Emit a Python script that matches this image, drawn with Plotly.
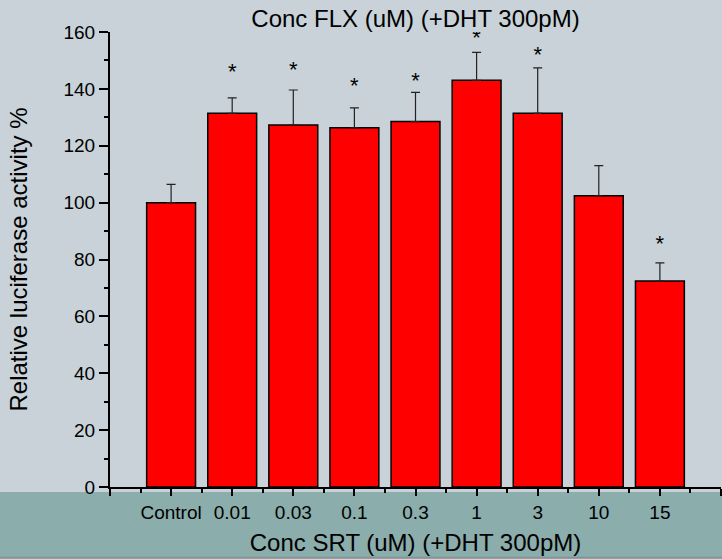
import plotly.graph_objects as go

categories = ["Control", "0.01", "0.03", "0.1", "0.3", "1", "3", "10", "15"]
activity = [100.0, 131.4, 127.3, 126.3, 128.5, 143.0, 131.4, 102.4, 72.4]
error_up = [6.4, 5.4, 12.3, 7.0, 10.3, 9.8, 16.0, 10.6, 6.4]
star_text = ["", "*", "*", "*", "*", "*", "*", "", "*"]
star_y = [None, 145.4, 146.2, 140.5, 142.1, 157.2, 151.4, None, 85.0]
y_ticks = [0, 20, 40, 60, 80, 100, 120, 140, 160]

FONT = "Arial, Liberation Sans, sans-serif"
BG = "#c8d2d8"
BAND = "#8badac"

xpos = list(range(len(categories)))

fig = go.Figure()
fig.add_trace(go.Bar(
    x=xpos, y=activity, width=0.8,
    marker=dict(color="#ff0000", line=dict(color="#000000", width=1.5)),
    error_y=dict(type="data", array=error_up, symmetric=False,
                 arrayminus=[0] * len(error_up),
                 color="#222222", thickness=1.2, width=4.5),
    showlegend=False,
))
fig.add_trace(go.Scatter(
    x=xpos, y=star_y, text=star_text, mode="text",
    textposition="middle center",
    textfont=dict(family=FONT, size=22, color="#000000"),
    showlegend=False, hoverinfo="skip",
))

major_x = [-1] + xpos + [len(categories)]
major_text = [""] + categories + [""]
minor_x = [p - 0.5 for p in xpos] + [len(categories) - 0.5]

fig.update_layout(
    width=722, height=559,
    margin=dict(l=110, r=1, t=32, b=72),
    paper_bgcolor=BG, plot_bgcolor=BG,
    font=dict(family=FONT, size=19, color="#000000"),
    title=dict(text="Conc FLX (uM) (+DHT 300pM)", x=0.5, xref="paper",
               y=1 - 18.6 / 559, yref="container", yanchor="middle",
               font=dict(family=FONT, size=24, color="#000000")),
    bargap=0.2,
)
fig.update_xaxes(
    range=[-1, len(categories)], showgrid=False, zeroline=False,
    automargin=False,
    showline=True, linecolor="#000000", linewidth=2,
    tickmode="array", tickvals=major_x, ticktext=major_text,
    ticks="outside", ticklen=7, tickwidth=1.5, tickcolor="#000000",
    ticklabelstandoff=0,
    tickfont=dict(family=FONT, size=19),
    minor=dict(tickmode="array", tickvals=minor_x, ticks="outside",
               ticklen=4, tickwidth=1.5, tickcolor="#000000"),
    title=dict(text="Conc SRT (uM) (+DHT 300pM)", standoff=12,
               font=dict(family=FONT, size=24)),
)
fig.update_yaxes(
    range=[0, 160], showgrid=False, zeroline=False,
    automargin=False,
    showline=True, linecolor="#000000", linewidth=2,
    tickmode="array", tickvals=y_ticks,
    ticks="outside", ticklen=9, tickwidth=1.5, tickcolor="#000000",
    tickfont=dict(family=FONT, size=19),
    minor=dict(dtick=10, ticks="outside", ticklen=4, tickwidth=1.5,
               tickcolor="#000000"),
    title=dict(text="Relative luciferase activity %", standoff=29,
               font=dict(family=FONT, size=24)),
)
fig.add_shape(type="rect", xref="paper", yref="paper",
              x0=-0.5, x1=1.5, y0=-5 / 455, y1=-0.2,
              fillcolor=BAND, line=dict(width=0), layer="below")
fig.add_shape(type="line", xref="paper", yref="paper",
              x0=-0.5, x1=1.5, y0=-70.5 / 455, y1=-70.5 / 455,
              line=dict(color="#7a9897", width=1.5), layer="below")

fig.write_html(
    "out.html",
    config={"displayModeBar": False},
    post_script="document.body.style.margin='0';document.body.style.padding='0';",
)
